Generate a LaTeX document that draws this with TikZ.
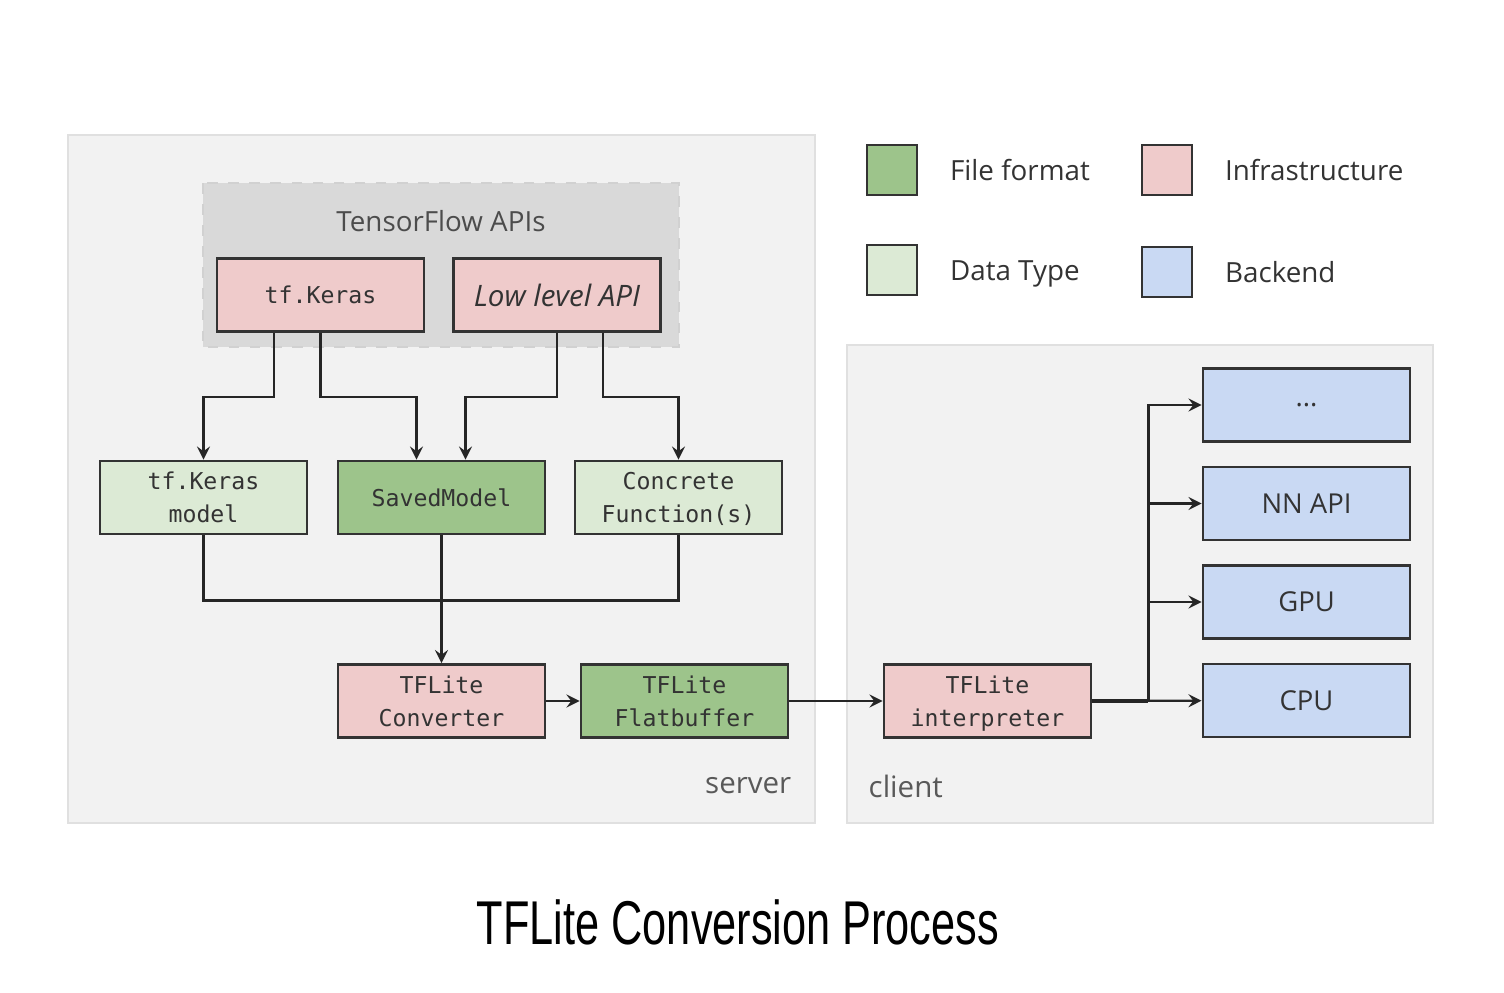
\documentclass[tikz,border=0pt]{standalone}
\usepackage{fontspec}
\setmainfont{Open Sans}
\setmonofont{DejaVu Sans Mono}
\newfontfamily\titlefont[FakeStretch=0.7]{Liberation Sans}
\usetikzlibrary{positioning}

\definecolor{fileGreen}{HTML}{9DC48B}
\definecolor{dataGreen}{HTML}{DCEAD5}
\definecolor{infraPink}{HTML}{EFCBCB}
\definecolor{backBlue}{HTML}{C9D9F3}
\definecolor{boxLine}{HTML}{333333}
\definecolor{paneGray}{HTML}{F2F2F2}
\definecolor{apiGray}{HTML}{D9D9D9}

\tikzset{>=stealth,
  tfBox/.style={draw=boxLine, line width=0.8pt, minimum width=2.07cm, minimum height=0.73cm,
    inner sep=0pt, align=center, text=black!80, font=\ttfamily\fontsize{6.6}{9.3}\selectfont},
  fileBox/.style={tfBox, fill=fileGreen},
  dataBox/.style={tfBox, fill=dataGreen},
  infraBox/.style={tfBox, fill=infraPink},
  backBox/.style={tfBox, fill=backBlue, font=\fontsize{7.8}{9.3}\selectfont},
  wire/.style={draw=black!85, line width=0.65pt},
  legendSq/.style={draw=boxLine, line width=0.8pt, minimum size=0.5cm, inner sep=0pt},
  legendTxt/.style={anchor=west, inner sep=0pt, text height=0.74em, text depth=0.12em,
    text=black!80, font=\fontsize{7.9}{9.5}\selectfont},
  paneTxt/.style={inner sep=0pt, text=black!65, font=\fontsize{8.4}{10}\selectfont}
}

\begin{document}
\begin{tikzpicture}
	\useasboundingbox (0,0) rectangle (15.04,-9.92);
	
	\filldraw[fill=paneGray, draw=black!12] (0.68,-1.35) rectangle (8.15,-8.23);	% server
	\filldraw[fill=paneGray, draw=black!12] (8.47,-3.45) rectangle (14.33,-8.23);	% client
	\filldraw[fill=apiGray, draw=black!18, dashed, line width=0.8pt] (2.03,-1.83) rectangle (6.79,-3.47);	% API group
	\node[paneTxt, text=black!70, font=\fontsize{7.9}{9.5}\selectfont] (tfapi) at (4.41,-2.21) {TensorFlow APIs};
	
	% legend
	\node[legendSq, fill=fileGreen] (lgFile) at (8.92,-1.70) {};
	\node[legendTxt, right=0.31cm of lgFile] (lgFileTxt) {File format};
	\node[legendSq, fill=infraPink] (lgInfra) at (11.67,-1.70) {};
	\node[legendTxt, right=0.31cm of lgInfra] (lgInfraTxt) {Infrastructure};
	\node[legendSq, fill=dataGreen] (lgData) at (8.92,-2.70) {};
	\node[legendTxt, right=0.31cm of lgData] (lgDataTxt) {Data Type};
	\node[legendSq, fill=backBlue] (lgBack) at (11.67,-2.72) {};
	\node[legendTxt, right=0.31cm of lgBack] (lgBackTxt) {Backend};
	
	% server side
	\node[infraBox] (keras) at (3.205,-2.95) {tf.Keras};
	\node[infraBox, font=\itshape\fontsize{8.4}{10}\selectfont] (lowapi) at (5.57,-2.95) {Low level API};
	\node[dataBox] (kmodel) at (2.035,-4.975) {tf.Keras\\model};
	\node[fileBox] (saved) at (4.415,-4.975) {SavedModel};
	\node[dataBox] (concrete) at (6.785,-4.975) {Concrete\\\smash{Function(s)}};
	\node[infraBox] (conv) at (4.415,-7.01) {TFLite\\Converter};
	\node[fileBox] (flat) at (6.845,-7.01) {TFLite\\Flatbuffer};
	\node[paneTxt, anchor=east] (server) at (7.92,-7.86) {server};
	
	% client side
	\node[infraBox] (interp) at (9.875,-7.01) {TFLite\\\smash{interpreter}};
	\node[backBox] (dots) at (13.065,-4.05) {...};
	\node[backBox] (nnapi) at (13.065,-5.035) {NN API};
	\node[backBox] (gpu) at (13.065,-6.02) {GPU};
	\node[backBox] (cpu) at (13.065,-7.005) {CPU};
	\node[paneTxt, anchor=west] (client) at (8.68,-7.86) {client};
	
	% connectors
	\draw[wire,->] ([xshift=-0.465cm]keras.south) -- ++(0,-0.64) -| (kmodel.north);
	\draw[wire,->] (keras.south) -- ++(0,-0.64) -| ([xshift=-0.25cm]saved.north);
	\draw[wire,->] (lowapi.south) -- ++(0,-0.64) -| ([xshift=0.24cm]saved.north);
	\draw[wire,->] ([xshift=0.46cm]lowapi.south) -- ++(0,-0.64) -| (concrete.north);
	\draw[wire] (kmodel.south) -- ++(0,-0.65) -| (concrete.south);
	\draw[wire,->] (saved) -- (conv);
	\draw[wire,->] (conv) -- (flat);
	\draw[wire,->] (flat) -- (interp);
	\draw[wire,->] (interp) -- (cpu);
	\coordinate[right=0.56cm of interp.east] (fork);
	\draw[wire, line width=1.1pt] (interp.east) -- (fork);	% doubled stub
	\foreach \b in {dots,nnapi,gpu}
		\draw[wire,->] (fork) |- (\b);
	
	\node (title) at (7.38,-9.22) {\titlefont\fontsize{17.6}{20}\selectfont TFLite Conversion Process};
\end{tikzpicture}
\end{document}
